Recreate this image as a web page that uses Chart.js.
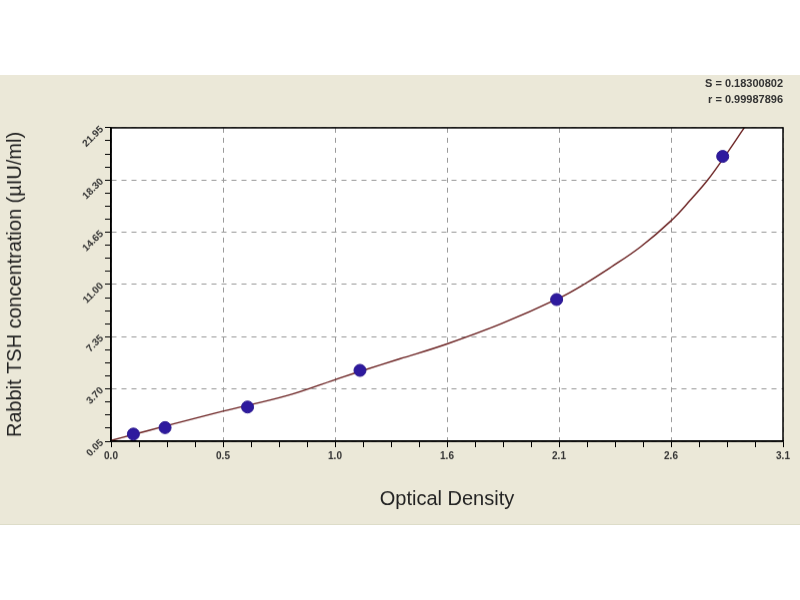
<!DOCTYPE html>
<html>
<head>
<meta charset="utf-8">
<script src="https://cdn.jsdelivr.net/npm/chart.js@4/dist/chart.umd.min.js"></script>
<style>
  body { margin: 0; background: #fff; }
  #wrap { position: absolute; left: 0; top: 75px; width: 800px; height: 450px; }
  canvas { background: #ebe8d8; border-bottom: 1px solid #dddcc8; }
</style>
</head>
<body>
<div id="wrap"><canvas id="myChart" width="800" height="450"></canvas></div>
<script>
// standards (optical density vs concentration)
const odValues = [0.104, 0.251, 0.634, 1.156, 2.069, 2.84];
const concValues = [0.55, 1.0, 2.44, 5.0, 9.95, 19.95];

// fitted curve
const curveOd = [0.0, 0.1, 0.25, 0.52, 0.82, 1.04, 1.16, 1.34, 1.56, 1.81, 2.08, 2.2, 2.32, 2.46, 2.6, 2.69, 2.77, 2.84, 2.94];
const curveConc = [0.1, 0.5, 1.1, 2.15, 3.25, 4.35, 4.95, 5.8, 6.85, 8.25, 10.05, 11.05, 12.2, 13.65, 15.45, 16.9, 18.3, 19.75, 21.95];

const fitText = ['S = 0.18300802', 'r = 0.99987896'];

const xMin = 0, xMax = 3.12, xStep = 0.13;
const yMin = 0.05, yMax = 21.95, yStep = 0.9125;

const plotFrame = {
  id: 'plotFrame',
  beforeDraw(chart) {
    const {ctx, chartArea: a} = chart;
    ctx.save();
    ctx.fillStyle = '#ffffff';
    ctx.fillRect(a.left, a.top, a.right - a.left, a.bottom - a.top);
    ctx.restore();
  },
  afterDraw(chart) {
    const {ctx, chartArea: a} = chart;
    ctx.save();
    ctx.strokeStyle = '#000';
    ctx.lineWidth = 1.5;
    ctx.strokeRect(a.left, a.top, a.right - a.left, a.bottom - a.top);
    ctx.restore();
  }
};

const gridColor = (c) => (c.index % 4 === 0 ? '#9a9a9a' : 'rgba(0,0,0,0)');
const fontFamily = 'Arial, "Liberation Sans", sans-serif';

const $ctx = document.getElementById('myChart');
const myChart = new Chart($ctx, {
  type: 'scatter',
  data: {
    datasets: [
      {
        label: 'Standards',
        data: odValues.map((x, i) => ({x: x, y: concValues[i]})),
        backgroundColor: '#2e1a9e',
        borderColor: '#2a1790',
        borderWidth: 1,
        pointRadius: 6,
        order: 0,
      },
      {
        label: 'Curve',
        data: curveOd.map((x, i) => ({x: x, y: curveConc[i]})),
        showLine: true,
        borderColor: '#6b2222',
        borderWidth: 1.4,
        pointRadius: 0,
        tension: 0.4,
        fill: false,
        order: 1,
      },
    ],
  },
  options: {
    responsive: false,
    animation: false,
    layout: {padding: {left: 0, right: 17, top: 0, bottom: 0}},
    plugins: {
      legend: {display: false},
      tooltip: {enabled: false},
      title: {
        display: true,
        text: fitText,
        align: 'end',
        color: '#333',
        font: {family: fontFamily, size: 11, weight: 'bold', lineHeight: 1.45},
        padding: {top: 1, bottom: 20},
      },
    },
    scales: {
      x: {
        type: 'linear',
        min: xMin,
        max: xMax,
        afterFit: (s) => { s.height = 83; },
        ticks: {
          stepSize: xStep,
          autoSkip: false,
          maxRotation: 0,
          color: '#333',
          padding: 3,
          font: {family: fontFamily, size: 10, weight: 'bold'},
          callback: (v, i) => (i % 4 === 0 ? Number(v).toFixed(1) : ''),
        },
        grid: {color: gridColor, tickColor: '#000', tickLength: 6, lineWidth: 1},
        border: {display: true, color: '#000', width: 1.5, dash: [5, 5]},
        title: {
          display: true,
          text: 'Optical Density',
          color: '#222',
          font: {family: fontFamily, size: 20},
          padding: {top: 0, bottom: 13},
        },
      },
      y: {
        type: 'linear',
        min: yMin,
        max: yMax,
        afterFit: (s) => { s.width = 111; },
        ticks: {
          stepSize: yStep,
          autoSkip: false,
          minRotation: 45,
          maxRotation: 45,
          color: '#333',
          padding: 3,
          font: {family: fontFamily, size: 10, weight: 'bold'},
          callback: (v, i) => (i % 4 === 0 ? Number(v).toFixed(2) : ''),
        },
        grid: {color: gridColor, tickColor: '#000', tickLength: 6, lineWidth: 1},
        border: {display: true, color: '#000', width: 1.5, dash: [5, 5]},
        title: {
          display: true,
          text: 'Rabbit TSH concentration (µIU/ml)',
          color: '#222',
          font: {family: fontFamily, size: 20},
          padding: {top: 3, bottom: 0},
        },
      },
    },
  },
  plugins: [plotFrame],
});
</script>
</body>
</html>
